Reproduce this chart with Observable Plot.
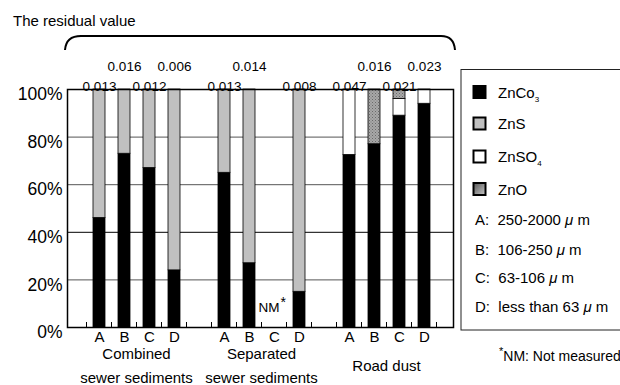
<!DOCTYPE html>
<html><head><meta charset="utf-8">
<script src="https://cdn.jsdelivr.net/npm/d3@7"></script>
<script src="https://cdn.jsdelivr.net/npm/@observablehq/plot@0.6"></script>
<style>
body{margin:0;background:#fff}
svg{font-family:"Liberation Sans",Arial,Helvetica,sans-serif}
</style>
</head><body><div id="chart"></div>
<script>
// ---- data ----
const groups = ["Combined", "Separated", "Road dust"];
const groupLabels = [["Combined", "sewer sediments"], ["Separated", "sewer sediments"], ["Road dust"]];
const sizes = ["A", "B", "C", "D"];
const sizeLabels = ["A:  250-2000 ", "B:  106-250 ", "C:  63-106 ", "D:  less than 63 "];
const components = ["ZnCO3", "ZnS", "ZnSO4", "ZnO"];
// percentage per bar: Combined A-D, Separated A-D, Road dust A-D (null = not measured)
const znco3 = [46, 73, 67, 24, 65, 27, null, 15, 72.5, 77, 89, 94];
const zns   = [54, 27, 33, 76, 35, 73, null, 85, 0, 0, 0, 0];
const znso4 = [0, 0, 0, 0, 0, 0, null, 0, 27.5, 0, 7, 6];
const zno   = [0, 0, 0, 0, 0, 0, null, 0, 0, 23, 4, 0];
const residual = ["0.013", "0.016", "0.012", "0.006", "0.013", "0.014", null, "0.008", "0.047", "0.016", "0.021", "0.023"];
const yTicks = [0, 20, 40, 60, 80, 100];

// ---- build tables ----
const series = [znco3, zns, znso4, zno];
const domain = [];
groups.forEach((g, gi) => {
  sizes.forEach(s => domain.push(g + "|" + s));
  if (gi < groups.length - 1) domain.push("gap" + gi);
});
const keyOf = i => groups[Math.floor(i / 4)] + "|" + sizes[i % 4];
const bars = [];
for (let i = 0; i < 12; i++) {
  components.forEach((c, ci) => {
    const v = series[ci][i];
    if (v != null && v > 0) bars.push({key: keyOf(i), comp: c, value: v});
  });
}
const labels = [];
const counters = {};
residual.forEach((r, i) => {
  if (r == null) return;
  const g = groups[Math.floor(i / 4)];
  counters[g] = (counters[g] || 0);
  labels.push({key: keyOf(i), text: r, row: counters[g] % 2});
  counters[g]++;
});
const nm = residual.map((r, i) => r == null ? keyOf(i) : null).filter(d => d);
const fillMap = {ZnCO3: "black", ZnS: "#c0c0c0", ZnSO4: "white", ZnO: "url(#znoPat)"};

function decor(index, scales, values, dims) {
  const x = scales.x;
  const bw = x.bandwidth(), step = x.step();
  const {marginLeft, marginTop, marginRight, marginBottom, width, height} = dims;
  const y0 = height - marginBottom, xr = width - marginRight;
  const g = d3.create("svg:g").attr("text-anchor", "start");
  const defs = g.append("defs");
  const p = defs.append("pattern").attr("id", "znoPat").attr("width", 3).attr("height", 3).attr("patternUnits", "userSpaceOnUse");
  p.append("rect").attr("width", 3).attr("height", 3).attr("fill", "#a8a8a8");
  p.append("rect").attr("width", 1).attr("height", 1).attr("fill", "#6a6a6a");
  p.append("rect").attr("x", 1.5).attr("y", 1.5).attr("width", 1).attr("height", 1).attr("fill", "#7a7a7a");
  const lg = defs.append("linearGradient").attr("id", "znoGrad").attr("x1", 0).attr("y1", 0).attr("x2", 1).attr("y2", 1);
  lg.append("stop").attr("offset", "0").attr("stop-color", "#555");
  lg.append("stop").attr("offset", "1").attr("stop-color", "#c8c8c8");

  // boundary ticks on the category axis
  const dom = x.domain();
  const bounds = dom.map(k => x(k) - (step - bw) / 2);
  bounds.push(x(dom[dom.length - 1]) + bw + (step - bw) / 2);
  g.selectAll("line.bt").data(bounds).join("line")
    .attr("x1", d => d).attr("x2", d => d).attr("y1", y0).attr("y2", y0 - 5)
    .attr("stroke", "black").attr("stroke-width", 1);

  // group labels
  groups.forEach((gr, gi) => {
    const a = x(gr + "|A"), b = x(gr + "|D") + bw;
    const cx = (a + b) / 2;
    const lines = groupLabels[gi];
    const ys = lines.length === 2 ? [y0 + 32, y0 + 56] : [y0 + 44];
    lines.forEach((t, li) => g.append("text").attr("x", cx).attr("y", ys[li])
      .attr("text-anchor", "middle").attr("font-size", 15).attr("fill", "black").text(t));
  });

  // title and bracket
  g.append("text").attr("x", 13).attr("y", 25.5).attr("font-size", 15).attr("fill", "black").text("The residual value");
  g.append("path").attr("d", `M${marginLeft - 2},50 Q${marginLeft - 1},36 ${marginLeft + 14},36 L${xr - 12},36 Q${xr + 1},36 ${xr + 2},50`)
    .attr("fill", "none").attr("stroke", "black").attr("stroke-width", 2);

  // legend box
  const lx = 461;
  g.append("rect").attr("x", lx).attr("y", 69.5).attr("width", 200).attr("height", 260.5)
    .attr("fill", "white").attr("stroke", "#222").attr("stroke-width", 1);
  const sw = [
    {name: "ZnCo", sub: "3", fill: "black", y: 92},
    {name: "ZnS", sub: null, fill: "#c0c0c0", y: 123.5},
    {name: "ZnSO", sub: "4", fill: "white", y: 156.5},
    {name: "ZnO", sub: null, fill: "url(#znoGrad)", y: 189}
  ];
  sw.forEach(s => {
    g.append("rect").attr("x", lx + 12.5).attr("y", s.y - 6).attr("width", 12).attr("height", 12)
      .attr("fill", s.fill).attr("stroke", "black").attr("stroke-width", 2);
    const t = g.append("text").attr("x", lx + 37).attr("y", s.y + 5.5).attr("font-size", 15).attr("fill", "black");
    t.append("tspan").text(s.name);
    if (s.sub) t.append("tspan").attr("font-size", 8).attr("dy", 4).text(s.sub);
  });
  const sy = [219, 249.5, 277.5, 306];
  sizeLabels.forEach((s, i) => {
    const t = g.append("text").attr("x", lx + 14).attr("y", sy[i] + 5.5).attr("font-size", 15).attr("fill", "black")
      .attr("xml:space", "preserve").style("white-space", "pre");
    t.append("tspan").text(s);
    t.append("tspan").attr("font-style", "italic").text("\u03bc");
    t.append("tspan").text(" m");
  });
  // footnote
  const f = g.append("text").attr("x", 499).attr("y", 361).attr("font-size", 14).attr("fill", "black");
  f.append("tspan").attr("font-size", 11).attr("dy", -6).text("*");
  f.append("tspan").attr("dy", 6).text("NM: Not measured");
  return g.node();
}

const chart = Plot.plot({
  width: 620,
  height: 385,
  marginLeft: 67,
  marginRight: 167,
  marginTop: 89,
  marginBottom: 58,
  style: {fontFamily: '"Liberation Sans", Arial, sans-serif', background: "white", color: "black", overflow: "visible"},
  x: {domain, paddingInner: 0.53, paddingOuter: 0.8245, align: 0.525, label: null},
  y: {domain: [0, 100], label: null},
  color: {type: "identity"},
  marks: [
    Plot.ruleY(yTicks.filter(d => d > 0 && d < 100), {stroke: d => d === 40 ? "#000" : "#555", strokeWidth: 1}),
    Plot.barY(bars, {x: "key", y: "value", fill: d => fillMap[d.comp], stroke: "black", strokeWidth: 0.8}),
    Plot.frame({stroke: "black", strokeWidth: 1.5}),
    Plot.axisY(yTicks, {tickSize: 0, tickPadding: 5, fontSize: 17.5, dy: 5, tickFormat: d => d + "%"}),
    Plot.axisX({tickSize: 0, tickPadding: 4, fontSize: 15, tickFormat: d => d.includes("|") ? d.split("|")[1] : ""}),
    Plot.text(labels.filter(d => d.row === 0), {x: "key", text: "text", frameAnchor: "top", dy: -8, fontSize: 13.5, fill: "black"}),
    Plot.text(labels.filter(d => d.row === 1), {x: "key", text: "text", frameAnchor: "top", dy: -28, fontSize: 13.5, fill: "black"}),
    Plot.text(nm, {x: d => d, text: () => "NM", frameAnchor: "bottom", dy: -16, dx: 5, textAnchor: "end", fontSize: 13.5, fill: "black"}),
    Plot.text(nm, {x: d => d, text: () => "*", frameAnchor: "bottom", dy: -21, dx: 6, textAnchor: "start", fontSize: 14, fill: "black"}),
    decor
  ]
});
document.getElementById("chart").appendChild(chart);
</script>
</body></html>
